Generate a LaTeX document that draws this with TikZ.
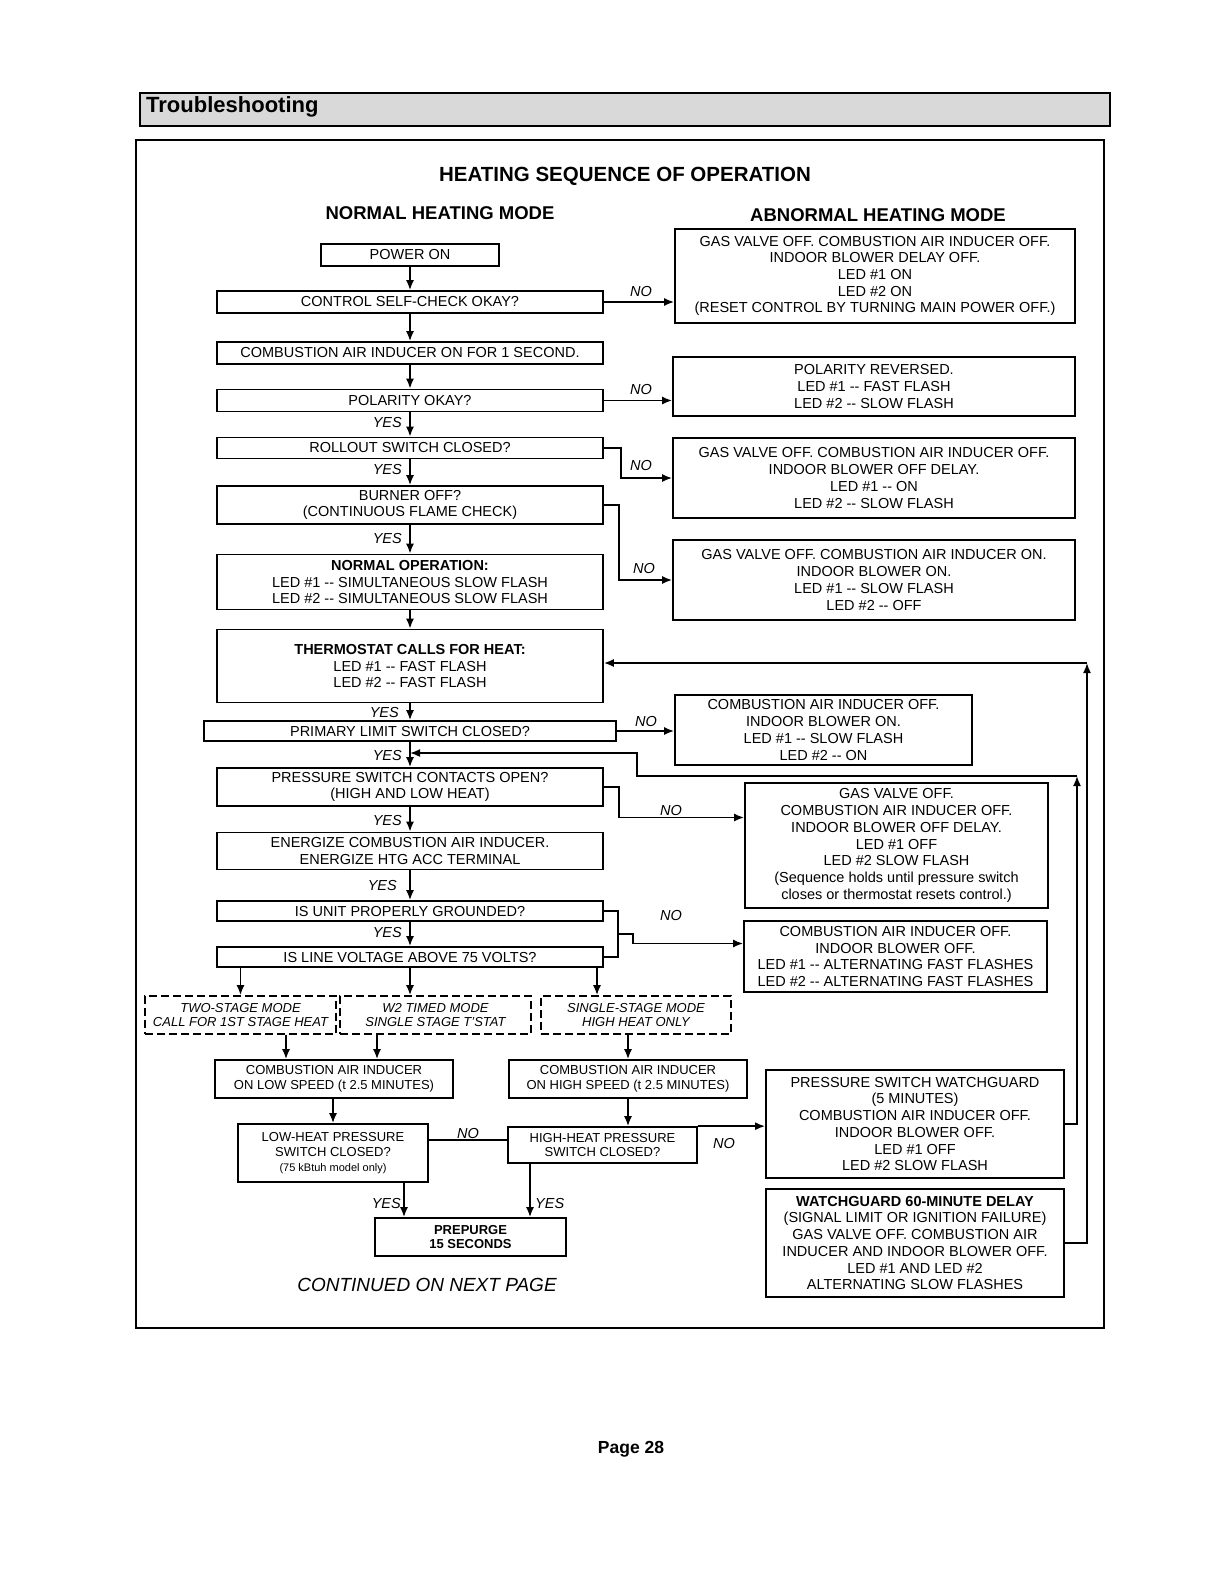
\documentclass[tikz,border=0pt]{standalone}
\usepackage{fontspec}
\setmainfont{Liberation Sans}
\usetikzlibrary{arrows.meta}

\newcommand\bxf{\fontsize{14.5}{16.7}\selectfont}
\newcommand\smf{\fontsize{13}{14.6}\selectfont}

\begin{document}
\begin{tikzpicture}[x=1pt, y=-1pt,
    box/.style={draw, line width=1.7pt, align=center, inner sep=1pt, font=\bxf},
    smallbox/.style={box, font=\smf},
    modebox/.style={box, dash pattern=on 8pt off 4pt, font={\smf\itshape}},
    lbl/.style={font={\bxf\itshape}, inner sep=1pt},
    flow/.style={line width=1.7pt, -{Latex[length=10pt,width=8pt]}},
    link/.style={line width=1.7pt}]
    \useasboundingbox (0,0) rectangle (1210,1572);
    % Header bar and frame
    \fill[gray!30] (140,93) rectangle (1110,126);
    \draw[line width=1.7pt] (140,93) rectangle (1110,126);
    \node[anchor=west, inner sep=0pt, font=\fontsize{22}{26}\selectfont\bfseries] (hdr) at (146,107) {Troubleshooting};
    \draw[line width=1.8pt] (136,140) rectangle (1104,1328);
    % Titles
    \node[font=\fontsize{20.5}{24}\selectfont\bfseries] (ttl) at (625,176) {HEATING SEQUENCE OF OPERATION};
    \node[font=\fontsize{18.5}{22}\selectfont\bfseries] (nhm) at (440,213) {NORMAL HEATING MODE};
    \node[font=\fontsize{18.5}{22}\selectfont\bfseries] (ahm) at (878,215) {ABNORMAL HEATING MODE};
    % Normal heating mode
    \node[box, minimum width=178pt, minimum height=22pt] (pwr) at (410,255) {POWER ON};
    \node[box, minimum width=386pt, minimum height=22pt] (chk) at (410,302) {CONTROL SELF-CHECK OKAY?};
    \node[box, minimum width=386pt, minimum height=22pt] (cai) at (410,353) {COMBUSTION AIR INDUCER ON FOR 1 SECOND.};
    \node[box, minimum width=386pt, minimum height=22pt] (pol) at (410,400.5) {POLARITY OKAY?};
    \node[box, minimum width=386pt, minimum height=21pt] (roll) at (410,448) {ROLLOUT SWITCH CLOSED?};
    \node[box, minimum width=386pt, minimum height=38pt] (burn) at (410,505) {BURNER OFF?\\(CONTINUOUS FLAME CHECK)};
    \node[box, minimum width=386pt, minimum height=55pt] (nop) at (410,582) {\textbf{NORMAL OPERATION:}\\LED \#1 -{}- SIMULTANEOUS SLOW FLASH\\LED \#2 -{}- SIMULTANEOUS SLOW FLASH};
    \node[box, minimum width=386pt, minimum height=73pt] (therm) at (410,666) {\textbf{THERMOSTAT CALLS FOR HEAT:}\\LED \#1 -{}- FAST FLASH\\LED \#2 -{}- FAST FLASH};
    \node[lbl, anchor=east] (y4) at (400,712) {YES};
    \node[box, fill=white, minimum width=412pt, minimum height=20pt] (prim) at (410,731) {PRIMARY LIMIT SWITCH CLOSED?};
    \node[box, minimum width=386pt, minimum height=38pt] (press) at (410,787) {PRESSURE SWITCH CONTACTS OPEN?\\(HIGH AND LOW HEAT)};
    \node[box, minimum width=386pt, minimum height=37pt] (enrg) at (410,851) {ENERGIZE COMBUSTION AIR INDUCER.\\ENERGIZE HTG ACC TERMINAL};
    \node[box, minimum width=386pt, minimum height=20pt] (gnd) at (410,911) {IS UNIT PROPERLY GROUNDED?};
    \node[box, minimum width=386pt, minimum height=20pt] (volt) at (410,957) {IS LINE VOLTAGE ABOVE 75 VOLTS?};
    % Main flow
    \draw[flow] (pwr) -- (chk);
    \draw[flow] (chk) -- (cai);
    \draw[flow] (cai) -- (pol);
    \draw[flow] (pol) -- (roll);
    \draw[flow] (roll) -- (burn);
    \draw[flow] (burn) -- (nop);
    \draw[flow] (nop) -- (therm);
    \draw[flow] (therm) -- (prim);
    \draw[flow] (prim) -- (press);
    \draw[flow] (press) -- (enrg);
    \draw[flow] (enrg) -- (gnd);
    \draw[flow] (gnd) -- (volt);
    \node[lbl, anchor=east] (y1) at (403,423) {YES};
    \node[lbl, anchor=east] (y2) at (403,470) {YES};
    \node[lbl, anchor=east] (y3) at (403,538) {YES};
    \node[lbl, anchor=east] (y5) at (403,755) {YES};
    \node[lbl, anchor=east] (y6) at (403,820) {YES};
    \node[lbl, anchor=east] (y7) at (398,885) {YES};
    \node[lbl, anchor=east] (y8) at (403,932) {YES};
    % Abnormal heating mode
    \node[box, minimum width=400pt, minimum height=94pt] (r1) at (875,276) {GAS VALVE OFF. COMBUSTION AIR INDUCER OFF.\\INDOOR BLOWER DELAY OFF.\\LED \#1 ON\\LED \#2 ON\\(RESET CONTROL BY TURNING MAIN POWER OFF.)};
    \node[box, minimum width=402pt, minimum height=59pt] (r2) at (874,386.5) {POLARITY REVERSED.\\LED \#1 -{}- FAST FLASH\\LED \#2 -{}- SLOW FLASH};
    \node[box, minimum width=402pt, minimum height=80pt] (r3) at (874,478) {GAS VALVE OFF. COMBUSTION AIR INDUCER OFF.\\INDOOR BLOWER OFF DELAY.\\LED \#1 -{}- ON\\LED \#2 -{}- SLOW FLASH};
    \node[box, minimum width=402pt, minimum height=80pt] (r4) at (874,580) {GAS VALVE OFF. COMBUSTION AIR INDUCER ON.\\INDOOR BLOWER ON.\\LED \#1 -{}- SLOW FLASH\\LED \#2 -{}- OFF};
    \node[box, minimum width=297pt, minimum height=70pt] (r5) at (823.5,730) {COMBUSTION AIR INDUCER OFF.\\INDOOR BLOWER ON.\\LED \#1 -{}- SLOW FLASH\\LED \#2 -{}- ON};
    \node[box, minimum width=303pt, minimum height=125pt] (r6) at (896.5,845.5) {GAS VALVE OFF.\\COMBUSTION AIR INDUCER OFF.\\INDOOR BLOWER OFF DELAY.\\LED \#1 OFF\\LED \#2 SLOW FLASH\\(Sequence holds until pressure switch\\closes or thermostat resets control.)};
    \node[box, minimum width=303pt, minimum height=71pt] (r7) at (895.5,956.5) {COMBUSTION AIR INDUCER OFF.\\INDOOR BLOWER OFF.\\LED \#1 -{}- ALTERNATING FAST FLASHES\\LED \#2 -{}- ALTERNATING FAST FLASHES};
    \node[box, minimum width=298pt, minimum height=108pt] (r8) at (915,1124) {PRESSURE SWITCH WATCHGUARD\\(5 MINUTES)\\COMBUSTION AIR INDUCER OFF.\\INDOOR BLOWER OFF.\\LED \#1 OFF\\LED \#2 SLOW FLASH};
    \node[box, minimum width=298pt, minimum height=108pt] (r9) at (915,1243) {\textbf{WATCHGUARD 60-MINUTE DELAY}\\(SIGNAL LIMIT OR IGNITION FAILURE)\\GAS VALVE OFF. COMBUSTION AIR\\INDUCER AND INDOOR BLOWER OFF.\\LED \#1 AND LED \#2\\ALTERNATING SLOW FLASHES};
    % NO branches
    \draw[flow] (chk.east) -- (chk.east -| r1.west);
    \node[lbl] (n1) at (641,292) {NO};
    \draw[flow] (pol.east) -- (pol.east -| r2.west);
    \node[lbl] (n2) at (641,390) {NO};
    \draw[flow] (roll.east) -- ++(17,0) |- (r3.west);
    \node[lbl] (n3) at (641,466) {NO};
    \draw[flow] (burn.east) -- ++(15,0) |- (r4.west);
    \node[lbl] (n4) at (644,568) {NO};
    \draw[flow] (prim.east) -- (prim.east -| r5.west);
    \node[lbl] (n5) at (646,721) {NO};
    \draw[flow] (press.east) -- ++(15,0) |- ([yshift=28pt]r6.west);
    \node[lbl] (n6) at (671,810) {NO};
    \coordinate (gv) at (618,934);
    \draw[link] (gnd.east) -| (gv) |- (volt.east);
    \draw[flow] (gv) -- ++(15,0) |- ([yshift=13pt]r7.west);
    \node[lbl] (n7) at (671,915) {NO};
    % Return paths
    \coordinate (c8) at (1077,776);
    \draw[flow] (r8.east) -| (c8);
    \draw[flow] (c8) -| (637,753) -- (prim.south |- 0,753);
    \coordinate (c9) at (1087,663);
    \draw[flow] (r9.east) -| (c9);
    \draw[flow] (c9) -- (c9 -| therm.east);
    % Stage modes
    \node[modebox, minimum width=191pt, minimum height=38pt] (ts) at (240.5,1015) {TWO-STAGE MODE\\CALL FOR 1ST STAGE HEAT};
    \node[modebox, minimum width=191pt, minimum height=38pt] (w2) at (435.5,1015) {W2 TIMED MODE\\SINGLE STAGE T'STAT};
    \node[modebox, minimum width=190pt, minimum height=38pt] (ss) at (636,1015) {SINGLE-STAGE MODE\\HIGH HEAT ONLY};
    \draw[flow] (volt.south -| ts.north) -- (ts.north);
    \draw[flow] (volt.south) -- (volt.south |- w2.north);
    \draw[flow] (volt.south -| 597,0) -- (ss.north -| 597,0);
    \node[smallbox, minimum width=238pt, minimum height=38pt] (ls) at (334,1079) {COMBUSTION AIR INDUCER\\ON LOW SPEED (t 2.5 MINUTES)};
    \node[smallbox, minimum width=238pt, minimum height=38pt] (hs) at (628,1079) {COMBUSTION AIR INDUCER\\ON HIGH SPEED (t 2.5 MINUTES)};
    \draw[flow] (ts.south -| 286,0) -- (ls.north -| 286,0);
    \draw[flow] (w2.south -| 377,0) -- (ls.north -| 377,0);
    \draw[flow] (ss.south -| hs.north) -- (hs.north);
    \node[smallbox, minimum width=190pt, minimum height=58pt] (lh) at (333,1153) {LOW-HEAT PRESSURE\\SWITCH CLOSED?\\{\fontsize{11}{13}\selectfont (75 kBtuh model only)}};
    \node[smallbox, minimum width=189pt, minimum height=36pt] (hh) at (602.5,1145) {HIGH-HEAT PRESSURE\\SWITCH CLOSED?};
    \draw[flow] (ls.south -| lh.north) -- (lh.north);
    \draw[flow] (hs.south) -- (hs.south |- hh.north);
    \draw[link] (lh.east |- 0,1140) -- (hh.west |- 0,1140);
    \node[lbl] (n8) at (468,1133) {NO};
    \draw[flow] (hh.north east) -- (hh.north east -| r8.west);
    \node[lbl] (n9) at (724,1143) {NO};
    \node[smallbox, font=\smf\bfseries, minimum width=191pt, minimum height=38pt] (pp) at (470.5,1237) {PREPURGE\\15 SECONDS};
    \draw[flow] (lh.south -| 404,0) -- (pp.north -| 404,0);
    \draw[flow] (hh.south -| 530,0) -- (pp.north -| 530,0);
    \node[lbl, anchor=east] (y9) at (402,1203) {YES};
    \node[lbl, anchor=west] (y10) at (534,1203) {YES};
    % Footer
    \node[font=\fontsize{19}{22}\selectfont\itshape] (cont) at (427,1285) {CONTINUED ON NEXT PAGE};
    \node[font=\fontsize{17.5}{20}\selectfont\bfseries] (pg) at (631,1449) {Page 28};
\end{tikzpicture}
\end{document}
